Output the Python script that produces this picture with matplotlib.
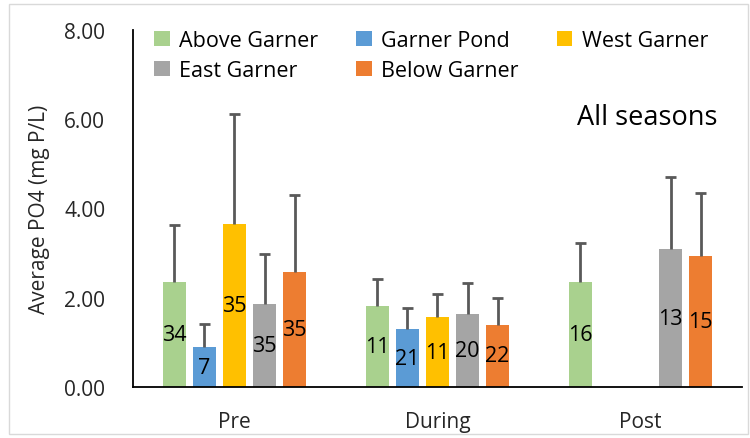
import numpy as np
import matplotlib
matplotlib.use("Agg")
import matplotlib.pyplot as plt
from matplotlib.patches import Rectangle

plt.rcParams['font.family'] = ['Open Sans', 'DejaVu Sans']

# --- donnees ---
periods = ["Pre", "During", "Post"]
sites = ["Above Garner", "Garner Pond", "West Garner", "East Garner", "Below Garner"]
colors = ["#A9D18E", "#5B9BD5", "#FFC000", "#A5A5A5", "#ED7D31"]

above_mean = [2.35, 1.82, 2.35]
pond_mean = [0.89, 1.29, np.nan]
west_mean = [3.65, 1.56, np.nan]
east_mean = [1.86, 1.64, 3.09]
below_mean = [2.58, 1.39, 2.93]

above_err = [1.27, 0.60, 0.88]
pond_err = [0.52, 0.48, np.nan]
west_err = [2.47, 0.53, np.nan]
east_err = [1.12, 0.68, 1.62]
below_err = [1.72, 0.61, 1.42]

above_n = [34, 11, 16]
pond_n = [7, 21, None]
west_n = [35, 11, None]
east_n = [35, 20, 13]
below_n = [35, 22, 15]

means = [above_mean, pond_mean, west_mean, east_mean, below_mean]
errs = [above_err, pond_err, west_err, east_err, below_err]
counts = [above_n, pond_n, west_n, east_n, below_n]

fig = plt.figure(figsize=(7.5, 4.39), dpi=100)
fig.patches.append(Rectangle((0.012, 0.01), 0.985, 0.978, transform=fig.transFigure,
                             fill=False, edgecolor="#D9D9D9", linewidth=1.0))
ax = fig.add_axes([0.1773, 0.1162, 0.812, 0.8132])

x = np.arange(len(periods))
width = 0.116
step = 0.148
cap = 0.028
bars = []
for i, (site, col) in enumerate(zip(sites, colors)):
    pos = x + (i - 2) * step
    m = np.array(means[i], dtype=float)
    e = np.array(errs[i], dtype=float)
    bars.append(ax.bar(pos, m, width, color=col, label=site, zorder=2))
    ok = ~np.isnan(m)
    # barre d'erreur vers le haut seulement
    ax.vlines(pos[ok], m[ok], m[ok] + e[ok], color="#595959", linewidth=2, zorder=3)
    ax.hlines(m[ok] + e[ok], pos[ok] - cap, pos[ok] + cap, color="#595959",
              linewidth=2, zorder=3)
    for p, v, n in zip(pos, m, counts[i]):
        if n is not None:
            ax.text(p, v / 2, str(n), ha="center", va="center", fontsize=15.5,
                    color="black", zorder=4)

ax.set_ylim(0, 8)
ax.set_xlim(-0.5, 2.5)
ax.set_yticks(np.arange(0, 8.01, 2))
ax.set_yticklabels([f"{v:.2f}" for v in np.arange(0, 8.01, 2)])
ax.set_xticks(x)
ax.set_xticklabels(periods)
ax.tick_params(axis="both", length=0, labelsize=15, colors="#262626")
ax.tick_params(axis="y", pad=20)
ax.tick_params(axis="x", pad=17)
for side in ["top", "right"]:
    ax.spines[side].set_visible(False)
for side in ["left", "bottom"]:
    ax.spines[side].set_linewidth(1.3)
    ax.spines[side].set_color("black")
ax.set_ylabel("Average PO4 (mg P/L)", fontsize=15, color="#262626", labelpad=10)

ax.text(0.959, 0.756, "All seasons", transform=ax.transAxes, ha="right",
        va="center", fontsize=19.5, color="black")

# ordre pour remplir la legende ligne par ligne
order = [0, 3, 1, 4, 2]
ax.legend([bars[k] for k in order], [sites[k] for k in order],
          loc="upper left", bbox_to_anchor=(0.003, 1.055), ncol=3, frameon=False,
          fontsize=15.5, handlelength=0.72, handleheight=0.72, handletextpad=0.45,
          columnspacing=1.75, labelspacing=0.42)

fig.savefig("out.png", dpi=100)
